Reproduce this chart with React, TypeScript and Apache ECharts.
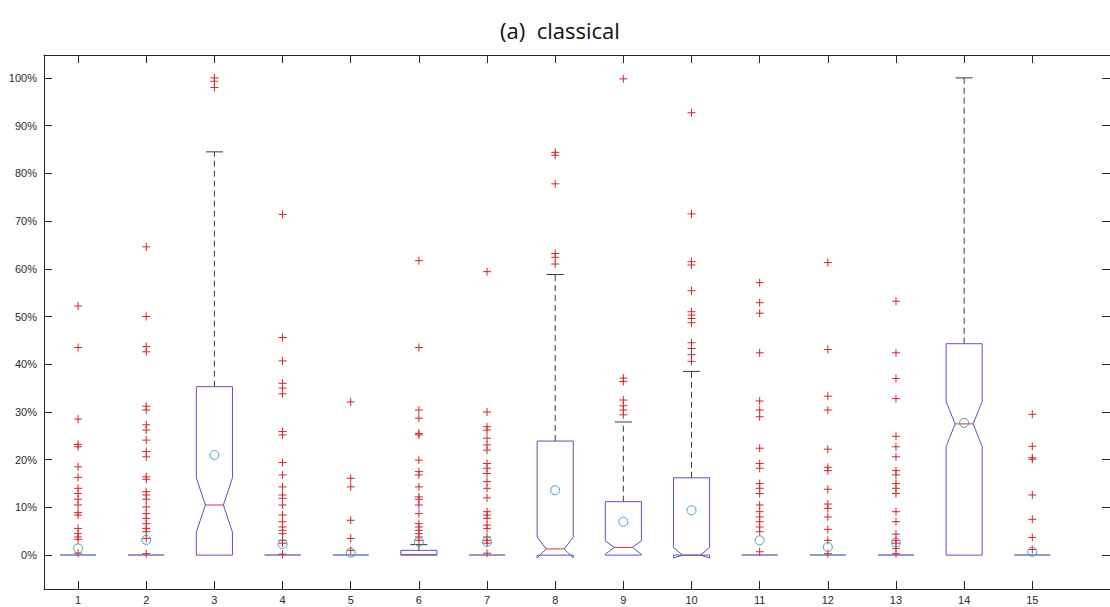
import React, { useEffect, useRef } from 'react';
import * as echarts from 'echarts';

// ---- data (values in percent) ----
const categories = [1, 2, 3, 4, 5, 6, 7, 8, 9, 10, 11, 12, 13, 14, 15];
const q1 = [0, 0, 0, 0, 0, 0, 0, 0, 0, 0, 0, 0, 0, 0, 0];
const medians = [0, 0, 10.5, 0, 0, 0.1, 0, 1.3, 1.6, 0, 0, 0, 0, 27.5, 0];
const q3 = [0, 0, 35.3, 0, 0, 1.0, 0, 23.9, 11.2, 16.2, 0, 0, 0, 44.3, 0];
const notchLow = [0, 0, 4.8, 0, 0, 0.1, 0, -0.6, 0.2, -0.6, 0, 0, 0, 22.7, 0];
const notchHigh = [0, 0, 16.2, 0, 0, 0.1, 0, 3.8, 3.0, 1.6, 0, 0, 0, 32.2, 0];
const whiskerLow = [0, 0, 0, 0, 0, 0, 0, 0, 0, 0, 0, 0, 0, 0, 0];
const whiskerHigh = [0, 0, 84.5, 0, 0, 2.2, 0, 58.8, 27.9, 38.5, 0, 0, 0, 100, 0];
const means = [1.4, 3.2, 21.0, 2.3, 0.5, 2.8, 2.8, 13.6, 7.0, 9.4, 3.1, 1.7, 2.6, 27.7, 0.7];

const outliers1 = [52.2, 43.5, 28.5, 23.2, 22.7, 18.5, 16.3, 14.0, 12.9, 11.7, 10.5, 8.9, 8.4, 5.6, 4.5, 3.8, 3.3, 0.4];
const outliers2 = [64.6, 50.0, 43.7, 42.6, 31.2, 30.4, 27.3, 26.2, 24.1, 21.7, 20.6, 16.4, 15.9, 13.3, 12.6, 11.7, 10.1, 8.7, 7.7, 6.6, 5.6, 4.9, 3.5, 0.3];
const outliers3 = [100, 99.3, 98.0];
const outliers4 = [71.4, 45.6, 40.7, 36.0, 35.0, 33.8, 25.9, 25.2, 19.4, 16.8, 14.3, 12.6, 11.9, 10.5, 8.4, 7.0, 5.9, 5.2, 4.5, 3.1, 2.5, 0.2];
const outliers5 = [32.1, 16.1, 14.3, 7.3, 3.5, 1.0];
const outliers6 = [61.7, 43.5, 30.4, 28.7, 25.5, 25.2, 19.9, 17.5, 16.8, 14.3, 12.2, 11.7, 10.5, 8.7, 6.6, 5.9, 5.2, 4.5, 3.8, 3.1];
const outliers7 = [59.4, 30.0, 26.9, 26.2, 24.5, 23.1, 22.0, 19.2, 18.2, 17.1, 15.4, 14.0, 12.0, 9.1, 8.4, 7.7, 6.3, 5.6, 3.8, 3.1, 2.5, 0.4];
const outliers8 = [84.4, 83.8, 77.8, 63.2, 62.4, 61.0];
const outliers9 = [99.8, 37.1, 36.4, 32.5, 31.3, 30.4, 29.4];
const outliers10 = [92.7, 71.5, 61.5, 60.8, 55.4, 51.0, 50.3, 49.6, 48.7, 44.5, 43.3, 42.0, 40.6];
const outliers11 = [57.1, 52.9, 50.7, 42.4, 32.3, 30.4, 29.0, 22.4, 19.2, 18.2, 15.0, 14.0, 12.9, 10.5, 9.1, 8.0, 7.0, 5.9, 4.9, 0.7];
const outliers12 = [61.3, 43.1, 33.3, 30.4, 22.2, 18.4, 17.7, 13.8, 10.7, 9.8, 8.0, 5.4, 3.1, 0.3];
const outliers13 = [53.2, 42.4, 37.0, 32.8, 24.9, 22.7, 20.6, 17.7, 16.8, 15.0, 14.0, 12.9, 9.1, 7.0, 4.4, 3.1, 2.5, 1.4, 0.3];
const outliers14: number[] = [];
const outliers15 = [29.5, 22.8, 20.4, 20.1, 12.6, 7.5, 3.7, 1.2];
const outlierLists = [
  outliers1, outliers2, outliers3, outliers4, outliers5, outliers6, outliers7, outliers8,
  outliers9, outliers10, outliers11, outliers12, outliers13, outliers14, outliers15,
];

const yTickValues = [0, 10, 20, 30, 40, 50, 60, 70, 80, 90, 100];

const BOX_COLOR = '#5555c4';
const MEDIAN_COLOR = '#e03030';
const WHISKER_COLOR = '#3a3a3a';
const OUTLIER_COLOR = '#d4262a';
const MEAN_COLOR = '#3f9ec9';
const AXIS_COLOR = '#262626';

export default function App() {
  const ref = useRef<HTMLDivElement>(null);

  useEffect(() => {
    if (!ref.current) return;
    const chart = echarts.init(ref.current, undefined, { renderer: 'svg' });

    const boxData = categories.map((c, i) => [
      c, q1[i], medians[i], q3[i], notchLow[i], notchHigh[i], whiskerLow[i], whiskerHigh[i],
    ]);
    const outlierData: number[][] = [];
    categories.forEach((c, i) => outlierLists[i].forEach((v) => outlierData.push([c, v])));
    const meanData = categories.map((c, i) => [c, means[i]]);

    const halfW = 0.265;
    const capW = 0.125;

    const renderBox = (params: any, api: any) => {
      const x = api.value(0);
      const lo = api.value(1);
      const med = api.value(2);
      const hi = api.value(3);
      const nl = api.value(4);
      const nh = api.value(5);
      const wl = api.value(6);
      const wh = api.value(7);
      const P = (xx: number, yy: number) => api.coord([xx, yy]);
      const children: any[] = [];
      const lineStyle = (color: string, dash?: number[]) => ({
        stroke: color, lineWidth: 1, fill: 'none', lineDash: dash,
      });
      if (wh > hi) {
        const a = P(x, hi), b = P(x, wh);
        children.push({ type: 'line', shape: { x1: a[0], y1: a[1], x2: b[0], y2: b[1] }, style: lineStyle(WHISKER_COLOR, [6, 4]) });
        const c1 = P(x - capW, wh), c2 = P(x + capW, wh);
        children.push({ type: 'line', shape: { x1: c1[0], y1: c1[1], x2: c2[0], y2: c2[1] }, style: lineStyle(WHISKER_COLOR) });
      }
      if (wl < lo) {
        const a = P(x, lo), b = P(x, wl);
        children.push({ type: 'line', shape: { x1: a[0], y1: a[1], x2: b[0], y2: b[1] }, style: lineStyle(WHISKER_COLOR, [6, 4]) });
        const c1 = P(x - capW, wl), c2 = P(x + capW, wl);
        children.push({ type: 'line', shape: { x1: c1[0], y1: c1[1], x2: c2[0], y2: c2[1] }, style: lineStyle(WHISKER_COLOR) });
      }
      if (hi === lo) {
        const a = P(x - halfW, lo), b = P(x + halfW, lo);
        children.push({ type: 'line', shape: { x1: a[0], y1: a[1], x2: b[0], y2: b[1] }, style: { stroke: '#6b78b8', lineWidth: 1.5 } });
      } else {
        const plain = nl === nh;
        const mw = plain ? halfW : halfW / 2;
        const m1 = P(x - mw, med), m2 = P(x + mw, med);
        children.push({ type: 'line', shape: { x1: m1[0], y1: m1[1], x2: m2[0], y2: m2[1] }, style: lineStyle(MEDIAN_COLOR) });
        let pts: number[][];
        if (plain) {
          pts = [P(x - halfW, lo), P(x - halfW, hi), P(x + halfW, hi), P(x + halfW, lo)];
        } else {
          pts = [
            P(x - halfW, lo), P(x - halfW, nl), P(x - halfW / 2, med), P(x - halfW, nh), P(x - halfW, hi),
            P(x + halfW, hi), P(x + halfW, nh), P(x + halfW / 2, med), P(x + halfW, nl), P(x + halfW, lo),
          ];
        }
        children.push({ type: 'polygon', shape: { points: pts }, style: lineStyle(BOX_COLOR) });
      }
      return { type: 'group', children };
    };

    const renderOutlier = (params: any, api: any) => {
      const p = api.coord([api.value(0), api.value(1)]);
      const s = 4;
      const st = { stroke: OUTLIER_COLOR, lineWidth: 1 };
      return {
        type: 'group',
        children: [
          { type: 'line', shape: { x1: p[0] - s, y1: p[1], x2: p[0] + s, y2: p[1] }, style: st },
          { type: 'line', shape: { x1: p[0], y1: p[1] - s, x2: p[0], y2: p[1] + s }, style: st },
        ],
      };
    };

    const renderMean = (params: any, api: any) => {
      const p = api.coord([api.value(0), api.value(1)]);
      return {
        type: 'circle',
        shape: { cx: p[0], cy: p[1], r: 4.5 },
        style: { fill: 'none', stroke: MEAN_COLOR, lineWidth: 1 },
      };
    };

    const labelFont = { color: '#2b2b2b', fontSize: 11, fontFamily: 'Liberation Sans, Arial, sans-serif' };

    const frameLine = { show: true, onZero: false, lineStyle: { color: AXIS_COLOR, width: 1 } };

    chart.setOption({
      animation: false,
      backgroundColor: '#ffffff',
      title: {
        text: '(a)  classical',
        left: 555,
        textAlign: 'center',
        top: 14,
        textStyle: { fontFamily: 'Open Sans', fontWeight: 'normal', fontSize: 22, color: '#111' },
      },
      grid: { left: 44, right: -1, top: 55, bottom: 18, containLabel: false },
      xAxis: [
        {
          type: 'value', min: 0.5, max: 16.14, position: 'bottom',
          axisLine: frameLine,
          axisTick: { show: true, inside: true, length: 8, customValues: categories, lineStyle: { color: AXIS_COLOR } },
          axisLabel: { show: true, customValues: categories, margin: 5, formatter: (v: number) => String(v), ...labelFont },
          splitLine: { show: false },
        },
        {
          type: 'value', min: 0.5, max: 16.14, position: 'top',
          axisLine: frameLine,
          axisTick: { show: true, inside: true, length: 8, customValues: categories, lineStyle: { color: AXIS_COLOR } },
          axisLabel: { show: false },
          splitLine: { show: false },
        },
      ],
      yAxis: [
        {
          type: 'value', min: -7.1, max: 104.8, position: 'left',
          axisLine: frameLine,
          axisTick: { show: true, inside: true, length: 8, customValues: yTickValues, lineStyle: { color: AXIS_COLOR } },
          axisLabel: { show: true, customValues: yTickValues, margin: 7, formatter: (v: number) => `${Math.round(v)}%`, ...labelFont },
          splitLine: { show: false },
        },
        {
          type: 'value', min: -7.1, max: 104.8, position: 'right',
          axisLine: { show: false, onZero: false },
          axisTick: { show: true, inside: true, length: 8, customValues: yTickValues, lineStyle: { color: AXIS_COLOR } },
          axisLabel: { show: false },
          splitLine: { show: false },
        },
      ],
      series: [
        {
          type: 'custom', name: 'box', xAxisIndex: 0, yAxisIndex: 0,
          renderItem: renderBox, data: boxData, encode: { x: 0, y: [1, 3] }, silent: true, clip: false,
        },
        {
          type: 'custom', name: 'outliers', xAxisIndex: 0, yAxisIndex: 0,
          renderItem: renderOutlier, data: outlierData, encode: { x: 0, y: 1 }, silent: true,
        },
        {
          type: 'custom', name: 'mean', xAxisIndex: 0, yAxisIndex: 0,
          renderItem: renderMean, data: meanData, encode: { x: 0, y: 1 }, silent: true,
        },
      ],
    });

    return () => chart.dispose();
  }, []);

  return (
    <div
      ref={ref}
      style={{ position: 'absolute', left: 0, top: 0, width: 1110, height: 607 }}
    />
  );
}
